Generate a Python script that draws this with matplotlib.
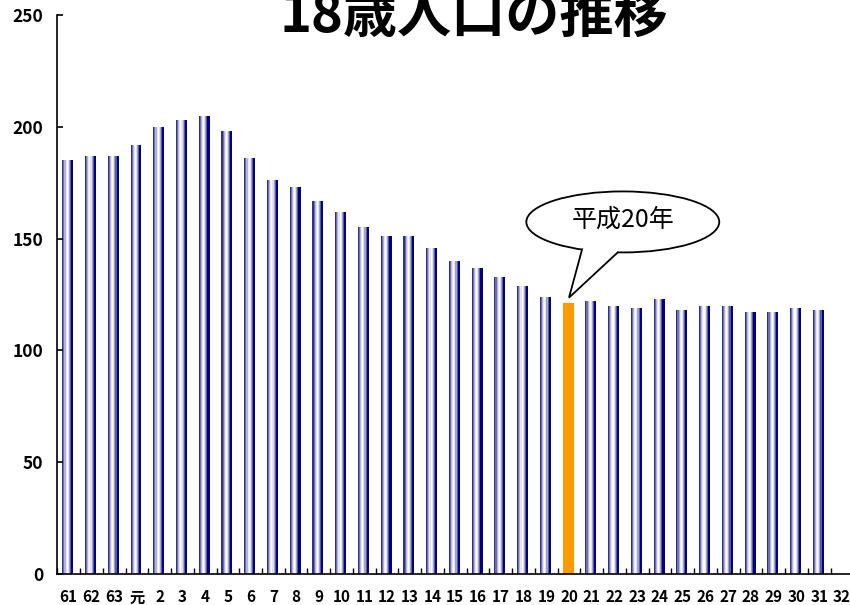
import matplotlib
matplotlib.use('Agg')
import matplotlib.pyplot as plt
import numpy as np
from matplotlib.patches import Ellipse, Polygon

plt.rcParams['font.family'] = ['Noto Sans CJK JP', 'DejaVu Sans']

# 18歳人口（万人）
years = ['61', '62', '63', '元', '2', '3', '4', '5', '6', '7', '8', '9',
         '10', '11', '12', '13', '14', '15', '16', '17', '18', '19', '20',
         '21', '22', '23', '24', '25', '26', '27', '28', '29', '30', '31', '32']
population = [185, 187, 187, 192, 200, 203, 205, 198, 186, 176, 173, 167,
              162, 155, 151, 151, 146, 140, 137, 133, 129, 124, 121,
              122, 120, 119, 123, 118, 120, 120, 117, 117, 119, 118, np.nan]
highlight = '20'
yticks = [0, 50, 100, 150, 200, 250]

fig = plt.figure(figsize=(8.5, 6.05), dpi=100)
ax = fig.add_axes([57.3 / 850, 31 / 605, 796 / 850, 559 / 605])

x = np.arange(len(years))
vals = np.array(population, dtype=float)

# bar gradient: dark edges, light centre
strip_colors = ['#30308a', '#7070ac', '#b4b4d6', '#e6e6f2', '#ffffff',
                '#e2e2ee', '#a4a4c8', '#5a5aa0', '#000080', '#000080']
bar_w = 0.48
n = len(strip_colors)
sw = bar_w / n
hi = years.index(highlight)
for k, c in enumerate(strip_colors):
    off = -bar_w / 2 + sw * (k + 0.5) - 0.04
    mask = x != hi
    ax.bar(x[mask] + off, vals[mask], width=sw * 1.02, color=c, linewidth=0)
ax.bar(x[hi] - 0.04, vals[hi], width=bar_w, color='#ff9900', linewidth=0)

ax.set_xlim(-0.5, len(years) - 0.5)
ax.set_ylim(0, 250)
ax.set_yticks(yticks)
ax.set_xticks(x)
ax.set_xticklabels(years)
ax.set_xticks(np.arange(len(years) + 1) - 0.5, minor=True)
ax.spines['top'].set_visible(False)
ax.spines['right'].set_visible(False)
for s in ['left', 'bottom']:
    ax.spines[s].set_linewidth(1.2)
ax.tick_params(axis='x', which='major', length=0, pad=11, labelsize=11)
ax.tick_params(axis='x', which='minor', direction='in', length=4, width=1)
ax.tick_params(axis='y', direction='in', length=4.5, width=1.2, pad=10,
               labelsize=12.5)
for lab in ax.get_xticklabels() + ax.get_yticklabels():
    lab.set_fontweight('bold')

# speech bubble pointing at 平成20年
px_x, px_y = 22.75, 559 / 250  # pixels per data unit
tip = np.array([hi, vals[hi] + 2.6])
cen = tip + np.array([53.8 / px_x, 75.7 / px_y])
a, b = 96.5 / px_x, 30.5 / px_y
ell = Ellipse(cen, 2 * a, 2 * b, facecolor='white', edgecolor='black',
              linewidth=1.3, zorder=4, clip_on=False)
ax.add_patch(ell)


def on_ellipse(t, r=1.0):
    return cen + r * np.array([a * np.cos(t), b * np.sin(t)])


t1, t2 = np.deg2rad(245), np.deg2rad(267)
p1, p2 = on_ellipse(t1), on_ellipse(t2)
wedge = Polygon([tip, p1, on_ellipse(t1, 0.8), on_ellipse(t2, 0.8), p2],
                closed=True, facecolor='white', edgecolor='none', zorder=5,
                clip_on=False)
ax.add_patch(wedge)
ax.plot([p1[0], tip[0], p2[0]], [p1[1], tip[1], p2[1]], color='black',
        linewidth=1.3, zorder=6, clip_on=False, solid_joinstyle='miter')
ax.text(cen[0], cen[1] + 1, '平成20年', fontsize=18, ha='center',
        va='center', zorder=7)

fig.text(474 / 850, 1 - 32 / 605, '18歳人口の推移', fontsize=39,
         fontweight='bold', ha='center', va='baseline')

fig.savefig('out.png', dpi=100)
